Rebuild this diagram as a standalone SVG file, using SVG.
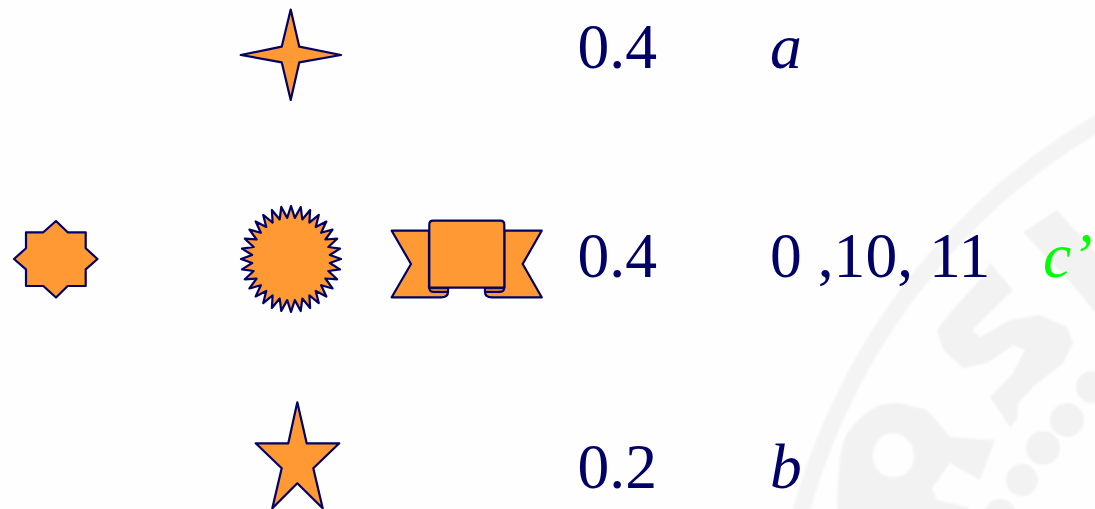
<svg xmlns="http://www.w3.org/2000/svg" width="1095" height="509" viewBox="0 0 1095 509">
<defs><filter id="soft" x="-5%" y="-5%" width="110%" height="110%"><feGaussianBlur stdDeviation="1.2"/></filter></defs>
<style>
.shape{fill:#ff9933;stroke:#000066;stroke-width:2.2;stroke-linejoin:round}
.fold{fill:#cc7a29;stroke:#000066;stroke-width:2;stroke-linejoin:round}
.t{font-family:"Liberation Serif","Times New Roman",serif;font-size:63.6px;fill:#000066}
.i{font-style:italic}
.wf{fill:#f2f2f2}
</style>
<rect width="1095" height="509" fill="#fefefe"/>
<g id="watermark" filter="url(#soft)">
<path fill="none" stroke="#f4f4f4" stroke-width="17" d="M1100,122C1000,180 860,300 800,515"/>
<polygon class="wf" points="1023,232 1057,210 1100,258 1100,318 1070,282"/>
<path class="wf" d="M990,263L1013,290L972,330L980,337L1010,320L1040,315L1067,327L1073,343L1063,363L1033,387L1018,403L1017,420L1010,427L990,397L1013,373L1025,350L1013,345L987,363L963,368L943,350L937,330L950,313L980,280Z"/>
<path class="wf" fill-rule="evenodd" d="M837,515C838,470 840,440 850,430C865,410 880,402 900,403L927,410L950,437L995,440L980,480L950,463L932,488L937,500L967,507L975,515ZM893,433C880,433 873,445 873,456C873,468 880,477 893,477C906,477 914,468 914,456C914,445 906,433 893,433Z"/>
<circle class="wf" cx="1067" cy="420" r="17"/>
<circle class="wf" cx="1043" cy="448" r="17"/>
<circle class="wf" cx="1022" cy="480" r="16"/>
<circle class="wf" cx="1092" cy="387" r="16"/>
<circle class="wf" cx="1000" cy="515" r="16"/>
</g>
<g id="star-8"><polygon class="shape" points="56,221 67.7,232.3 85.7,232.3 85.7,248.3 97.5,259 85.7,269.3 85.7,286 67.7,286 56,297.5 43.3,286 26,286 26,269.3 14,259 26,248.3 26,232.3 43.3,232.3"/></g>
<g id="star-4"><polygon class="shape" points="290.7,9.5 299.3,46.7 341,55 299.3,62.3 290.7,100 281.7,62.3 240.7,55 281.7,46.7"/></g>
<g id="star-5"><polygon class="shape" points="297.3,402.3 306.7,443.3 339.3,443.3 313.3,468.3 322.7,508.3 297.3,483.3 272.3,508.3 281.7,468.3 255.7,443.3 288.3,443.3"/></g>
<g id="star-32"><polygon class="shape" vector-effect="non-scaling-stroke" transform="translate(291 259) scale(1 1.06)" points="50,0 38.81,-3.82 49.04,-9.75 37.32,-11.32 46.19,-19.13 34.39,-18.38 41.57,-27.78 30.15,-24.74 35.36,-35.36 24.74,-30.15 27.78,-41.57 18.38,-34.39 19.13,-46.19 11.32,-37.32 9.75,-49.04 3.82,-38.81 0,-50 -3.82,-38.81 -9.75,-49.04 -11.32,-37.32 -19.13,-46.19 -18.38,-34.39 -27.78,-41.57 -24.74,-30.15 -35.36,-35.36 -30.15,-24.74 -41.57,-27.78 -34.39,-18.38 -46.19,-19.13 -37.32,-11.32 -49.04,-9.75 -38.81,-3.82 -50,0 -38.81,3.82 -49.04,9.75 -37.32,11.32 -46.19,19.13 -34.39,18.38 -41.57,27.78 -30.15,24.74 -35.36,35.36 -24.74,30.15 -27.78,41.57 -18.38,34.39 -19.13,46.19 -11.32,37.32 -9.75,49.04 -3.82,38.81 0,50 3.82,38.81 9.75,49.04 11.32,37.32 19.13,46.19 18.38,34.39 27.78,41.57 24.74,30.15 35.36,35.36 30.15,24.74 41.57,27.78 34.39,18.38 46.19,19.13 37.32,11.32 49.04,9.75 38.81,3.82"/></g>
<g id="ribbon">
<path class="shape" d="M429,230.7H391.7L411,264L391.7,297.3H441Q448,297.3 448,292V287.7H429Z"/>
<path class="shape" d="M504.3,230.7H541.7L522.7,264L541.7,297.3H492Q485,297.3 485,292V287.7H504.3Z"/>
<path class="fold" d="M429.3,287.7Q429.3,292 434,292H448V287.7Z"/>
<path class="fold" d="M504.3,287.7Q504.3,292 499,292H485V287.7Z"/>
<path class="shape" d="M433,220.7H500.3Q504.3,220.7 504.3,224.7V287.7H429.3V224.7Q429.3,220.7 433,220.7Z"/>
</g>
<g id="labels">
<text class="t" x="577.5" y="68">0.4</text>
<text class="t i" x="770" y="68">a</text>
<text class="t" x="577.5" y="277">0.4</text>
<text class="t" x="770" y="277" xml:space="preserve">0 ,10, 11</text>
<text class="t i" x="1043" y="277" style="fill:#00ff00">c’</text>
<text class="t" x="577.5" y="488">0.2</text>
<text class="t i" x="770" y="488">b</text>
</g>
</svg>
